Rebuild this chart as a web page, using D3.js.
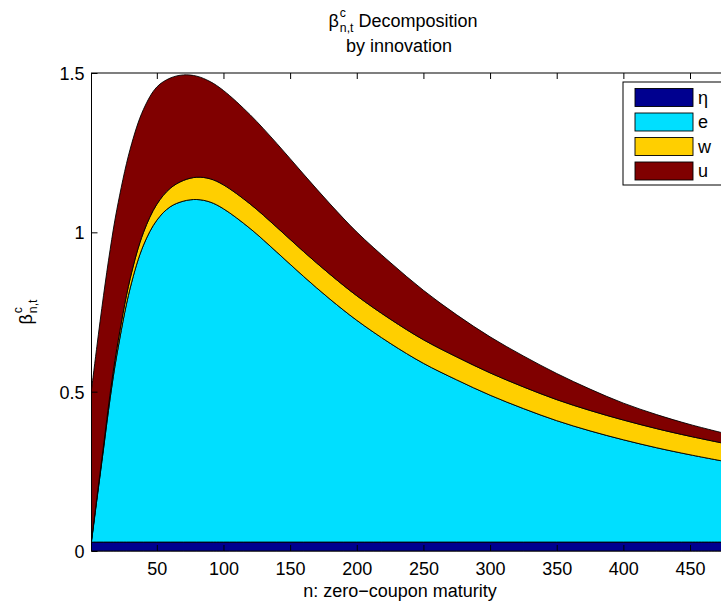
<!DOCTYPE html>
<html><head><meta charset="utf-8">
<script src="https://cdn.jsdelivr.net/npm/d3@7/dist/d3.min.js"></script>
<style>
body{margin:0;background:#fff}
svg{display:block}
text{font-family:"Liberation Sans",Arial,Helvetica,sans-serif;fill:#000}
</style>
</head><body>
<svg id="chart" width="721" height="605"></svg>
<script>
// ---- data ----
const maturities = [1,5,10,15,20,30,40,50,60,70,80,90,100,120,140,160,180,200,225,250,275,300,325,350,375,400,425,450,480];
const etaValues = [0.028,0.028,0.028,0.028,0.028,0.028,0.028,0.028,0.028,0.028,0.028,0.028,0.028,0.028,0.028,0.028,0.028,0.028,0.028,0.028,0.028,0.028,0.028,0.028,0.028,0.028,0.028,0.028,0.028];
const eValues = [0.002,0.132,0.292,0.452,0.587,0.797,0.932,1.010,1.052,1.070,1.075,1.067,1.046,0.984,0.910,0.834,0.762,0.696,0.624,0.561,0.509,0.461,0.419,0.381,0.349,0.321,0.296,0.274,0.250];
const wValues = [0.005,0.007,0.010,0.015,0.020,0.030,0.040,0.050,0.058,0.065,0.070,0.073,0.075,0.077,0.078,0.078,0.078,0.077,0.076,0.074,0.072,0.070,0.068,0.066,0.064,0.062,0.060,0.058,0.056];
const uValues = [0.470,0.474,0.471,0.451,0.436,0.406,0.386,0.368,0.346,0.331,0.317,0.305,0.296,0.280,0.263,0.243,0.221,0.200,0.178,0.155,0.132,0.113,0.097,0.082,0.067,0.053,0.044,0.037,0.031];
const seriesKeys = ["eta","e","w","u"];
const seriesNames = ["η","e","w","u"];
const seriesColors = ["#00008F","#00DFFF","#FFCF00","#800000"];
const xTicks = [50,100,150,200,250,300,350,400,450];
const yTicks = [0,0.5,1,1.5];
const yTickLabels = ["0","0.5","1","1.5"];
const xDomain = [1,480];
const yDomain = [0,1.5];

// ---- layout ----
const FS = 18;
const svg = d3.select("#chart");
svg.append("rect").attr("width",721).attr("height",605).attr("fill","#fff");
const x = d3.scaleLinear().domain(xDomain).range([91.5,730]);
const y = d3.scaleLinear().domain(yDomain).range([551,73]);

const table = maturities.map((n,i)=>({n, eta:etaValues[i], e:eValues[i], w:wValues[i], u:uValues[i]}));
const stacked = d3.stack().keys(seriesKeys)(table);

// axes box (under the areas, MATLAB layer bottom)
svg.append("rect").attr("x",x.range()[0]).attr("y",y.range()[1])
  .attr("width",x.range()[1]-x.range()[0]).attr("height",y.range()[0]-y.range()[1])
  .attr("fill","none").attr("stroke","#000").attr("stroke-width",1);

const area = d3.area()
  .x(d=>x(d.data.n)).y0(d=>y(d[0])).y1(d=>y(d[1]))
  .curve(d3.curveCatmullRom.alpha(0.5));
svg.append("g").selectAll("path").data(stacked).join("path")
  .attr("d",area)
  .attr("fill",(d,i)=>seriesColors[i])
  .attr("stroke","#000").attr("stroke-width",0.9).attr("stroke-linejoin","round");

// ticks (inward)
const TL = 6;
const xb = svg.append("g").attr("transform",`translate(0,${y.range()[0]})`)
  .call(d3.axisBottom(x).tickValues(xTicks).tickSizeInner(-TL).tickSizeOuter(0).tickPadding(12));
const xt = svg.append("g").attr("transform",`translate(0,${y.range()[1]})`)
  .call(d3.axisTop(x).tickValues(xTicks).tickSizeInner(-TL).tickSizeOuter(0).tickFormat(""));
const yl = svg.append("g").attr("transform",`translate(${x.range()[0]},0)`)
  .call(d3.axisLeft(y).tickValues(yTicks).tickSizeInner(-TL).tickSizeOuter(0).tickPadding(7)
    .tickFormat((d,i)=>yTickLabels[i]));
[xb,xt,yl].forEach(g=>{
  g.select(".domain").remove();
  g.selectAll(".tick line").attr("stroke","#000").attr("stroke-width",1);
  g.selectAll("text").attr("font-size",FS).attr("font-family","Liberation Sans, Arial, sans-serif").attr("fill","#000");
});
xb.selectAll(".tick text").attr("dy",null).attr("y",null).attr("transform","translate(0,24)");
yl.selectAll(".tick text").attr("dy","0.36em");

// ---- math label helper: β^c_{n,t} + rest ----
function betaLabel(parent, cx, by, fs, rest){
  const g = parent.append("g");
  const b = g.append("text").attr("font-size",fs).text("β");
  const bw = b.node().getComputedTextLength();
  const sfs = fs*0.68;
  const sup = g.append("text").attr("font-size",sfs).attr("x",bw+1).attr("y",-fs*0.56).text("c");
  const sub = g.append("text").attr("font-size",sfs).attr("x",bw+1).attr("y",fs*0.3).text("n,t");
  let total = bw+1+Math.max(sup.node().getComputedTextLength(), sub.node().getComputedTextLength());
  if(rest){
    const r = g.append("text").attr("font-size",fs).attr("x",total+fs*0.28).text(rest);
    total += fs*0.28 + r.node().getComputedTextLength();
  }
  g.attr("transform",`translate(${cx-total/2},${by})`);
  return g;
}

// title
betaLabel(svg, 403, 27, FS, "Decomposition");
svg.append("text").attr("x",399).attr("y",52).attr("text-anchor","middle").attr("font-size",FS).text("by innovation");

// x label
svg.append("text").attr("x",400).attr("y",597).attr("text-anchor","middle")
  .attr("font-size",FS).text("n: zero\u2212coupon maturity");

// y label
const ylg = svg.append("g").attr("transform",`translate(32,312) rotate(-90)`);
betaLabel(ylg, 0, 0, FS, null);

// legend
const lg = svg.append("g");
lg.append("rect").attr("x",623).attr("y",82).attr("width",120).attr("height",103)
  .attr("fill","#fff").attr("stroke","#000").attr("stroke-width",1);
const rowY = [97.5,122,146.5,171];
seriesNames.forEach((name,i)=>{
  lg.append("rect").attr("x",635).attr("y",rowY[i]-9).attr("width",58).attr("height",18)
    .attr("fill",seriesColors[i]).attr("stroke","#000").attr("stroke-width",0.9);
  lg.append("text").attr("x",698).attr("y",rowY[i]+6).attr("font-size",FS).text(name);
});
</script>
</body></html>
